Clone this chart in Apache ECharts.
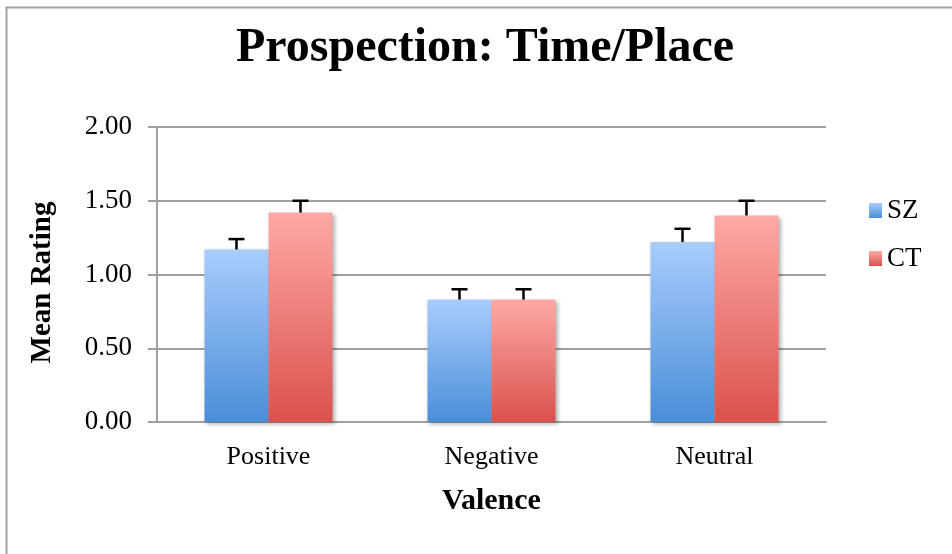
<!DOCTYPE html>
<html>
<head>
<meta charset="utf-8">
<script src="https://cdn.jsdelivr.net/npm/echarts@6/dist/echarts.min.js"></script>
<style>html,body{margin:0;padding:0;background:#fff}#c{width:952px;height:554px}</style>
</head>
<body>
<div id="c"></div>
<script>
const categories = ['Positive', 'Negative', 'Neutral'];
const seriesNames = ['SZ', 'CT'];
const szValues = [1.17, 0.83, 1.22];
const ctValues = [1.42, 0.83, 1.40];
const szErrors = [0.07, 0.07, 0.09];
const ctErrors = [0.08, 0.07, 0.10];
const yTicks = [0, 0.5, 1.0, 1.5, 2.0];

const FONT = '"Liberation Serif", "Times New Roman", serif';
const CAT_GAP = 0.426;

function grad(top, bottom) {
  return new echarts.graphic.LinearGradient(0, 0, 0, 1, [
    { offset: 0, color: top }, { offset: 1, color: bottom }
  ]);
}
const szColor = grad('#a9ccfd', '#4a8ed8');
const ctColor = grad('#fea9a6', '#da514d');

function errSeries(values, errs, sign) {
  return {
    type: 'custom',
    silent: true,
    z: 5,
    data: values.map((v, i) => [i, v, errs[i]]),
    renderItem: function (params, api) {
      const i = api.value(0), v = api.value(1), e = api.value(2);
      const band = api.size([1, 0])[0];
      const barW = band * (1 - CAT_GAP) / 2;
      const base = api.coord([i, v]);
      const top = api.coord([i, v + e]);
      const x = base[0] + sign * barW / 2;
      const capHalf = 8;
      return {
        type: 'group',
        children: [
          { type: 'line', shape: { x1: x, y1: base[1], x2: x, y2: top[1] }, style: { stroke: '#000', lineWidth: 2.5 } },
          { type: 'line', shape: { x1: x - capHalf, y1: top[1], x2: x + capHalf, y2: top[1] }, style: { stroke: '#000', lineWidth: 2.5 } }
        ]
      };
    },
    encode: { x: 0, y: 1 }
  };
}

const chart = echarts.init(document.getElementById('c'), null, { renderer: 'canvas' });
chart.setOption({
  animation: false,
  backgroundColor: '#fff',
  graphic: [{
    type: 'rect', left: 4, top: 5, shape: { width: 1000, height: 600 },
    style: { fill: 'none', stroke: '#a0a0a0', lineWidth: 2 }, z: -1
  }],
  title: {
    text: 'Prospection: Time/Place',
    left: 236, top: 25,
    textStyle: { fontFamily: FONT, fontSize: 48, fontWeight: 'bold', color: '#000' },
    padding: 0, itemGap: 0
  },
  legend: {
    data: seriesNames,
    orient: 'vertical',
    left: 864, top: 192,
    itemWidth: 13, itemHeight: 15, itemGap: 21,
    textStyle: { fontFamily: FONT, fontSize: 27, color: '#000' },
    icon: 'rect'
  },
  grid: { left: 157, right: 126, top: 127, bottom: 132, containLabel: false },
  xAxis: {
    type: 'category',
    data: categories,
    name: 'Valence',
    nameLocation: 'middle',
    nameGap: 64,
    nameTextStyle: { fontFamily: FONT, fontSize: 30, fontWeight: 'bold', color: '#000' },
    axisLine: { show: true, lineStyle: { color: '#a0a0a0', width: 2 } },
    axisTick: { show: false },
    axisLabel: { fontFamily: FONT, fontSize: 26, color: '#000', margin: 22 }
  },
  yAxis: {
    type: 'value',
    min: 0, max: 2, interval: 0.5,
    name: 'Mean Rating',
    nameLocation: 'middle',
    nameGap: 100,
    nameTextStyle: { fontFamily: FONT, fontSize: 29, fontWeight: 'bold', color: '#000', padding: [0, 16, 0, 0] },
    axisLine: { show: true, lineStyle: { color: '#a0a0a0', width: 2 } },
    axisTick: { show: true, length: 9, lineStyle: { color: '#a0a0a0', width: 2 } },
    splitLine: { show: true, lineStyle: { color: '#a0a0a0', width: 2 } },
    axisLabel: {
      fontFamily: FONT, fontSize: 27, color: '#000', margin: 25,
      formatter: v => yTicks.includes(v) ? v.toFixed(2) : ''
    }
  },
  series: [
    {
      name: 'SZ', type: 'bar', data: szValues, barGap: '0%', barCategoryGap: (CAT_GAP * 100) + '%',
      itemStyle: { color: szColor, shadowBlur: 4, shadowColor: 'rgba(0,0,0,0.3)', shadowOffsetX: 2, shadowOffsetY: 2 }
    },
    {
      name: 'CT', type: 'bar', data: ctValues, barGap: '0%', barCategoryGap: (CAT_GAP * 100) + '%',
      itemStyle: { color: ctColor, shadowBlur: 4, shadowColor: 'rgba(0,0,0,0.3)', shadowOffsetX: 2, shadowOffsetY: 2 }
    },
    errSeries(szValues, szErrors, -1),
    errSeries(ctValues, ctErrors, 1)
  ]
});
</script>
</body>
</html>
